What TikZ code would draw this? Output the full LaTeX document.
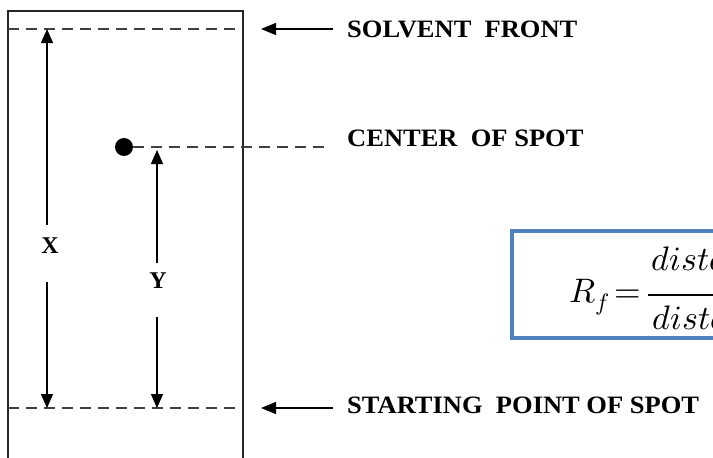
\documentclass[tikz,border=0pt]{standalone}
\usepackage{fontspec}
\usepackage{unicode-math}
\setmainfont{Liberation Serif}
\setmathfont{Latin Modern Math}
\newfontfamily\labfont[FakeStretch=1.06]{Liberation Serif}
\usetikzlibrary{arrows.meta}
\definecolor{boxblue}{HTML}{4F81BD}
\tikzset{
  plate/.style={line width=1.3pt, black!85},
  guide/.style={dash pattern=on 11pt off 7pt, line width=1.2pt, black!75},
  pointer/.style={-{Triangle[length=15pt,width=12pt]}, line width=1.3pt},
  measure/.style={-{Triangle[length=14pt,width=12pt]}, line width=1.3pt},
  lab/.style={font=\labfont\bfseries\fontsize{25}{29}\selectfont, anchor=base west, inner sep=0pt},
  dimlab/.style={font=\bfseries\fontsize{24}{28}\selectfont, inner sep=0pt},
  mathtext/.style={font=\fontsize{34}{40}\selectfont, anchor=base west, inner sep=0pt},
  formbox/.style={draw=boxblue, line width=4.5pt}
}
\begin{document}
\begin{tikzpicture}[x=1pt,y=-1pt]
\useasboundingbox (0,0) rectangle (713,458);
\clip (0,0) rectangle (713,458);

% plate
\coordinate (pl-tl) at (8,11);
\coordinate (pl-tr) at (243,11);
\coordinate (pl-bl) at (8,470);
\coordinate (pl-br) at (243,470);
\draw[plate] (pl-bl) -- (pl-tl) -- (pl-tr) -- (pl-br);

% solvent front
\coordinate (sf-l) at (8,29);
\coordinate (sf-r) at (240,29);
\draw[guide] (sf-l) -- (sf-r);
\node[lab] (sf) at (347,37) {SOLVENT\ \ FRONT};
\coordinate (sf-tail) at (333,29);
\coordinate (sf-tip) at (261,29);
\draw[pointer] (sf-tail) -- (sf-tip);

% spot
\node[circle, fill=black, inner sep=0pt, minimum size=18pt] (spot) at (124,147) {};
\coordinate (cs-r) at (330,147);
\draw[guide] (spot.east) -- (cs-r);
\node[lab] (cs) at (347,146) {CENTER\ \ OF SPOT};

% starting line
\coordinate (st-l) at (8,408);
\coordinate (st-r) at (240,408);
\draw[guide] (st-l) -- (st-r);
\node[lab] (st) at (347,413) {STARTING\ \ POINT OF SPOT};
\coordinate (st-tail) at (333,408);
\coordinate (st-tip) at (261,408);
\draw[pointer] (st-tail) -- (st-tip);

% X measure
\node[dimlab] (xl) at (50,246) {X};
\coordinate (x-top) at (47,29);
\coordinate (x-bot) at (47,408);
\coordinate (x-g1) at (47,225);
\coordinate (x-g2) at (47,282);
\draw[measure] (x-g1) -- (x-top);
\draw[measure] (x-g2) -- (x-bot);

% Y measure
\node[dimlab] (yl) at (158,281) {Y};
\coordinate (y-top) at (157,150);
\coordinate (y-bot) at (157,408);
\coordinate (y-g1) at (157,263);
\coordinate (y-g2) at (157,317);
\draw[measure] (y-g1) -- (y-top);
\draw[measure] (y-g2) -- (y-bot);

% formula box
\coordinate (fb-a) at (512,231);
\coordinate (fb-b) at (780,338);
\draw[formbox] (fb-a) rectangle (fb-b);
\node[mathtext] (rf) at (569,302) {$R_f$};
\node[mathtext] (eq) at (614,302) {$=$};
\node[mathtext] (num) at (651,270) {$distance\ travelled\ by\ solute$};
\node[mathtext] (den) at (652,329) {$distance\ travelled\ by\ solvent$};
\coordinate (bar-l) at (648,295);
\coordinate (bar-r) at (760,295);
\draw[line width=2.4pt] (bar-l) -- (bar-r);
\end{tikzpicture}
\end{document}
